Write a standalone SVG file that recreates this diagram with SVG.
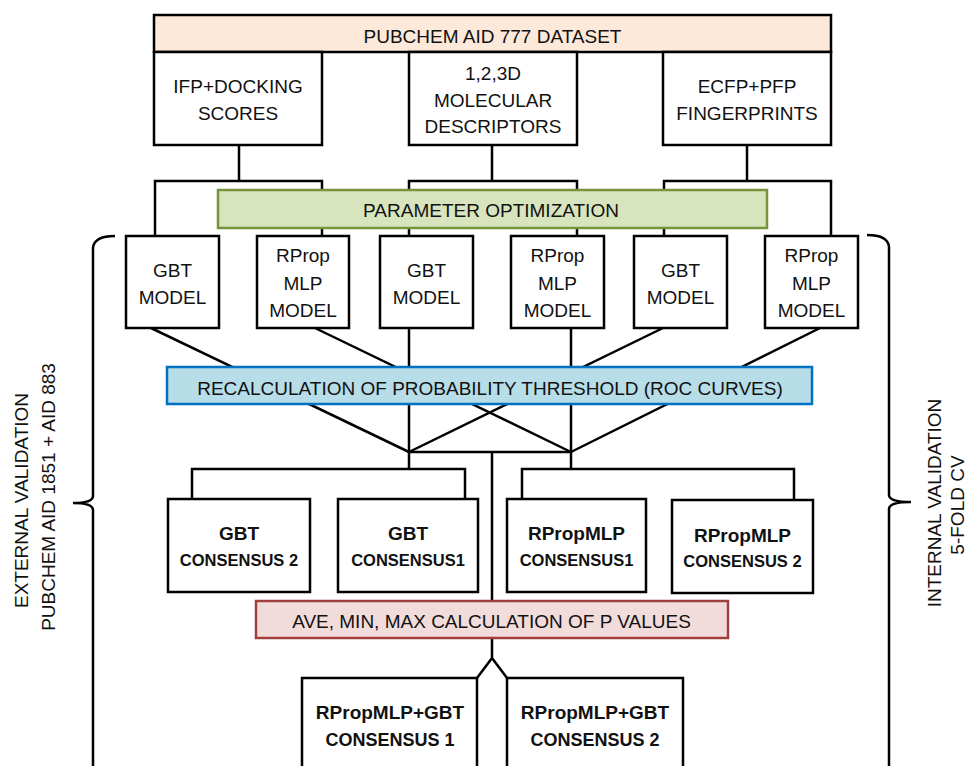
<svg xmlns="http://www.w3.org/2000/svg" width="970" height="766" viewBox="0 0 970 766">
<style>
.box{fill:#fff;stroke:#000;stroke-width:2.5}
.ln{fill:none;stroke:#000;stroke-width:2.5}
.t{font-family:"Liberation Sans",Arial,sans-serif;font-size:19px;fill:#111;text-anchor:middle}
.h{font-family:"Liberation Sans",Arial,sans-serif;font-size:19px;font-weight:bold;fill:#111;text-anchor:middle}
.s{font-family:"Liberation Sans",Arial,sans-serif;font-size:16.5px;font-weight:bold;fill:#111;text-anchor:middle}
.s2{font-family:"Liberation Sans",Arial,sans-serif;font-size:18px;font-weight:bold;fill:#111;text-anchor:middle}
</style>
<rect width="970" height="766" fill="#fff"/>

<g id="connectors" class="ln">
  <path d="M239,145 V181 M155,236 V181 H322 V236"/>
  <path d="M492,145 V181 M409,236 V181 H577 V236"/>
  <path d="M747,145 V181 M664,236 V181 H831 V236"/>
  <path d="M151,328 L409,452"/>
  <path d="M315,328 L571,452"/>
  <path d="M409,328 V452"/>
  <path d="M571,328 V452"/>
  <path d="M663,328 L409,452"/>
  <path d="M820,328 L571,452"/>
  <path d="M409,452 H571"/>
  <path d="M409,452 V469 M192,499 V469 H465 V499"/>
  <path d="M571,452 V469 M522,499 V469 H794 V500"/>
  <path d="M492,452 V658 L477,678 M492,658 L507,678"/>
  <path d="M115,236 Q94,236 93,248 L93,496 Q93,503 73,503 Q93,503 93,510 L93,780"/>
  <path d="M867,235 Q888,235 889,247 L889,495 Q889,502 911,502 Q889,502 889,509 L889,780"/>
</g>

<g id="dataset">
  <rect x="154" y="15" width="677" height="37" fill="#fde9d9" stroke="#000" stroke-width="2.5"/>
  <text class="t" x="492.5" y="43">PUBCHEM AID 777 DATASET</text>
</g>
<g id="ifp">
  <rect class="box" x="154" y="52" width="168" height="93"/>
  <text class="t" x="238" y="93">IFP+DOCKING</text>
  <text class="t" x="238" y="120">SCORES</text>
</g>
<g id="descriptors">
  <rect class="box" x="409" y="52" width="168" height="93"/>
  <text class="t" x="493" y="80">1,2,3D</text>
  <text class="t" x="493" y="107">MOLECULAR</text>
  <text class="t" x="493" y="133">DESCRIPTORS</text>
</g>
<g id="fingerprints">
  <rect class="box" x="663" y="52" width="168" height="93"/>
  <text class="t" x="747" y="93">ECFP+PFP</text>
  <text class="t" x="747" y="120">FINGERPRINTS</text>
</g>

<g id="param">
  <rect x="218" y="190" width="549" height="38" fill="#d7e4bd" stroke="#77933c" stroke-width="2.5"/>
  <text class="t" x="491" y="217">PARAMETER OPTIMIZATION</text>
</g>

<g id="model1">
  <rect class="box" x="126" y="236" width="93" height="92"/>
  <text class="t" x="172.5" y="277">GBT</text>
  <text class="t" x="172.5" y="304">MODEL</text>
</g>
<g id="model2">
  <rect class="box" x="257" y="236" width="92" height="92"/>
  <text class="t" x="303" y="262">RProp</text>
  <text class="t" x="303" y="290">MLP</text>
  <text class="t" x="303" y="317">MODEL</text>
</g>
<g id="model3">
  <rect class="box" x="380" y="236" width="93" height="92"/>
  <text class="t" x="426.5" y="277">GBT</text>
  <text class="t" x="426.5" y="304">MODEL</text>
</g>
<g id="model4">
  <rect class="box" x="511" y="236" width="93" height="92"/>
  <text class="t" x="557.5" y="262">RProp</text>
  <text class="t" x="557.5" y="290">MLP</text>
  <text class="t" x="557.5" y="317">MODEL</text>
</g>
<g id="model5">
  <rect class="box" x="634" y="236" width="93" height="92"/>
  <text class="t" x="680.5" y="277">GBT</text>
  <text class="t" x="680.5" y="304">MODEL</text>
</g>
<g id="model6">
  <rect class="box" x="765" y="236" width="93" height="92"/>
  <text class="t" x="811.5" y="262">RProp</text>
  <text class="t" x="811.5" y="290">MLP</text>
  <text class="t" x="811.5" y="317">MODEL</text>
</g>

<g id="recalc">
  <rect x="167" y="367" width="645" height="37" fill="#b7dde8" stroke="#0070c0" stroke-width="2.5"/>
  <text class="t" x="490" y="395">RECALCULATION OF PROBABILITY THRESHOLD (ROC CURVES)</text>
</g>

<g id="gbt-c2">
  <rect class="box" x="168" y="499" width="142" height="93"/>
  <text class="h" x="239" y="540">GBT</text>
  <text class="s" x="239" y="566">CONSENSUS 2</text>
</g>
<g id="gbt-c1">
  <rect class="box" x="338" y="499" width="140" height="93"/>
  <text class="h" x="408" y="540">GBT</text>
  <text class="s" x="408" y="566">CONSENSUS1</text>
</g>
<g id="mlp-c1">
  <rect class="box" x="507" y="499" width="139" height="93"/>
  <text class="h" x="576.5" y="540">RPropMLP</text>
  <text class="s" x="576.5" y="566">CONSENSUS1</text>
</g>
<g id="mlp-c2">
  <rect class="box" x="672" y="500" width="141" height="93"/>
  <text class="h" x="742.5" y="542">RPropMLP</text>
  <text class="s" x="742.5" y="567">CONSENSUS 2</text>
</g>

<g id="ave">
  <rect x="256" y="601" width="472" height="37" fill="#f2dcdb" stroke="#a0403d" stroke-width="2.5"/>
  <text class="t" x="491.5" y="628">AVE, MIN, MAX CALCULATION OF P VALUES</text>
</g>

<g id="combo1">
  <rect class="box" x="302" y="678" width="175" height="110"/>
  <text class="h" x="390" y="719">RPropMLP+GBT</text>
  <text class="s2" x="390" y="746">CONSENSUS 1</text>
</g>
<g id="combo2">
  <rect class="box" x="507" y="678" width="176" height="110"/>
  <text class="h" x="595" y="719">RPropMLP+GBT</text>
  <text class="s2" x="595" y="746">CONSENSUS 2</text>
</g>

<g id="external-label">
  <text class="t" transform="translate(28,500.5) rotate(-90)">EXTERNAL VALIDATION</text>
  <text class="t" transform="translate(55,497) rotate(-90)">PUBCHEM AID 1851 + AID 883</text>
</g>
<g id="internal-label">
  <text class="t" transform="translate(941,503) rotate(-90)">INTERNAL VALIDATION</text>
  <text class="t" transform="translate(964,505) rotate(-90)">5-FOLD CV</text>
</g>
</svg>
